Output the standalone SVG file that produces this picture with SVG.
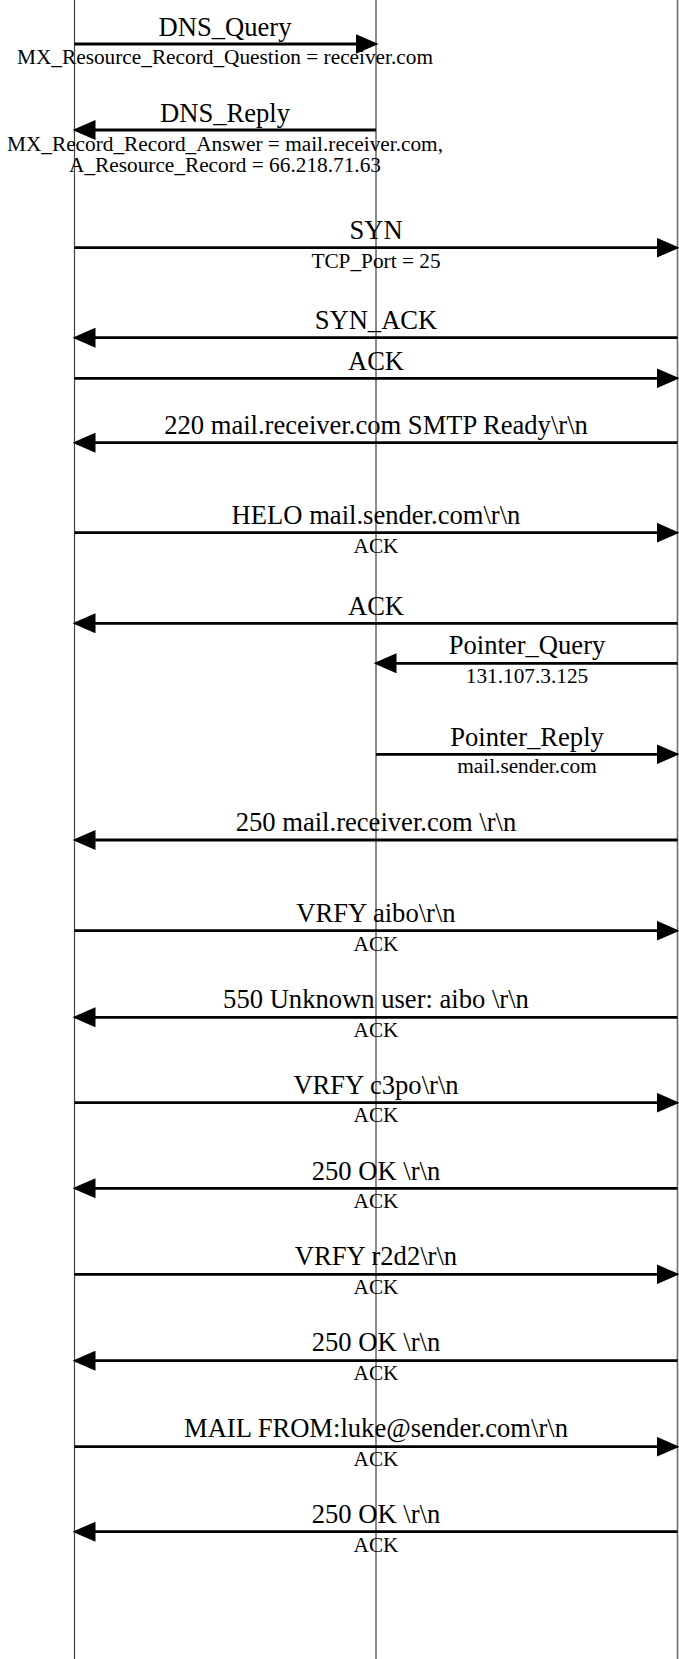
<svg xmlns="http://www.w3.org/2000/svg" width="679" height="1659" viewBox="0 0 679 1659">
<style>
.life{stroke:#6e6e6e;stroke-width:1.6;fill:none}
.lifeL{stroke:#444;stroke-width:1.2;fill:none}
.msg{stroke:#000;stroke-width:2.8;fill:none;marker-end:url(#ah)}
.lbl{font-family:"Liberation Serif","Times New Roman",serif;font-size:26.6px;fill:#000;text-anchor:middle}
.sub{font-family:"Liberation Serif","Times New Roman",serif;font-size:21.3px;fill:#000;text-anchor:middle}
</style>
<defs>
<marker id="ah" viewBox="0 0 23 20" refX="13" refY="10" markerWidth="23" markerHeight="20" markerUnits="userSpaceOnUse" orient="auto">
<path d="M0,0 L23,10 L0,20 z" fill="#000"/>
</marker>
</defs>
<rect width="679" height="1659" fill="#fff"/>
<g id="sender"><line class="lifeL" x1="74.5" y1="0" x2="74.5" y2="1659"/></g>
<g id="dns_server"><line class="life" x1="376" y1="0" x2="376" y2="1659"/></g>
<g id="receiver"><line class="life" x1="677.5" y1="0" x2="677.5" y2="1659"/></g>
<g id="connectors">
<g id="m1"><line class="msg" x1="74.5" y1="44" x2="368.5" y2="44"/><text class="lbl" x="225" y="36">DNS_Query</text><text class="sub" x="225" y="64.3">MX_Resource_Record_Question = receiver.com</text></g>
<g id="m2"><line class="msg" x1="376" y1="130" x2="82.5" y2="130"/><text class="lbl" x="225" y="121.7">DNS_Reply</text><text class="sub" x="225" y="151">MX_Record_Record_Answer = mail.receiver.com,</text><text class="sub" x="225" y="171.7">A_Resource_Record = 66.218.71.63</text></g>
<g id="m3"><line class="msg" x1="74.5" y1="247.7" x2="669.5" y2="247.7"/><text class="lbl" x="376" y="239">SYN</text><text class="sub" x="376" y="267.7">TCP_Port = 25</text></g>
<g id="m4"><line class="msg" x1="677.5" y1="337.7" x2="82.5" y2="337.7"/><text class="lbl" x="376" y="329">SYN_ACK</text></g>
<g id="m5"><line class="msg" x1="74.5" y1="378.3" x2="669.5" y2="378.3"/><text class="lbl" x="376" y="370">ACK</text></g>
<g id="m6"><line class="msg" x1="677.5" y1="442.7" x2="82.5" y2="442.7"/><text class="lbl" x="376" y="434.3">220 mail.receiver.com SMTP Ready\r\n</text></g>
<g id="m7"><line class="msg" x1="74.5" y1="532.7" x2="669.5" y2="532.7"/><text class="lbl" x="376" y="524">HELO mail.sender.com\r\n</text><text class="sub" x="376" y="552.7">ACK</text></g>
<g id="m8"><line class="msg" x1="677.5" y1="623.3" x2="82.5" y2="623.3"/><text class="lbl" x="376" y="615">ACK</text></g>
<g id="m9"><line class="msg" x1="677.5" y1="663.3" x2="383.5" y2="663.3"/><text class="lbl" x="527" y="654">Pointer_Query</text><text class="sub" x="527" y="683.3">131.107.3.125</text></g>
<g id="m10"><line class="msg" x1="376" y1="754.3" x2="669.5" y2="754.3"/><text class="lbl" x="527" y="745.7">Pointer_Reply</text><text class="sub" x="527" y="773.3">mail.sender.com</text></g>
<g id="m11"><line class="msg" x1="677.5" y1="840" x2="82.5" y2="840"/><text class="lbl" x="376" y="830.7">250 mail.receiver.com \r\n</text></g>
<g id="m12"><line class="msg" x1="74.5" y1="930.7" x2="669.5" y2="930.7"/><text class="lbl" x="376" y="921.7">VRFY aibo\r\n</text><text class="sub" x="376" y="950.5">ACK</text></g>
<g id="m13"><line class="msg" x1="677.5" y1="1017.3" x2="82.5" y2="1017.3"/><text class="lbl" x="376" y="1008.3">550 Unknown user: aibo \r\n</text><text class="sub" x="376" y="1036.7">ACK</text></g>
<g id="m14"><line class="msg" x1="74.5" y1="1102.7" x2="669.5" y2="1102.7"/><text class="lbl" x="376" y="1094.3">VRFY c3po\r\n</text><text class="sub" x="376" y="1122.3">ACK</text></g>
<g id="m15"><line class="msg" x1="677.5" y1="1188.3" x2="82.5" y2="1188.3"/><text class="lbl" x="376" y="1180">250 OK \r\n</text><text class="sub" x="376" y="1208.3">ACK</text></g>
<g id="m16"><line class="msg" x1="74.5" y1="1274.3" x2="669.5" y2="1274.3"/><text class="lbl" x="376" y="1265">VRFY r2d2\r\n</text><text class="sub" x="376" y="1294">ACK</text></g>
<g id="m17"><line class="msg" x1="677.5" y1="1360.7" x2="82.5" y2="1360.7"/><text class="lbl" x="376" y="1351">250 OK \r\n</text><text class="sub" x="376" y="1380">ACK</text></g>
<g id="m18"><line class="msg" x1="74.5" y1="1446.7" x2="669.5" y2="1446.7"/><text class="lbl" x="376" y="1436.7">MAIL FROM:luke@sender.com\r\n</text><text class="sub" x="376" y="1465.7">ACK</text></g>
<g id="m19"><line class="msg" x1="677.5" y1="1531.7" x2="82.5" y2="1531.7"/><text class="lbl" x="376" y="1522.7">250 OK \r\n</text><text class="sub" x="376" y="1551.7">ACK</text></g>
</g>
</svg>
